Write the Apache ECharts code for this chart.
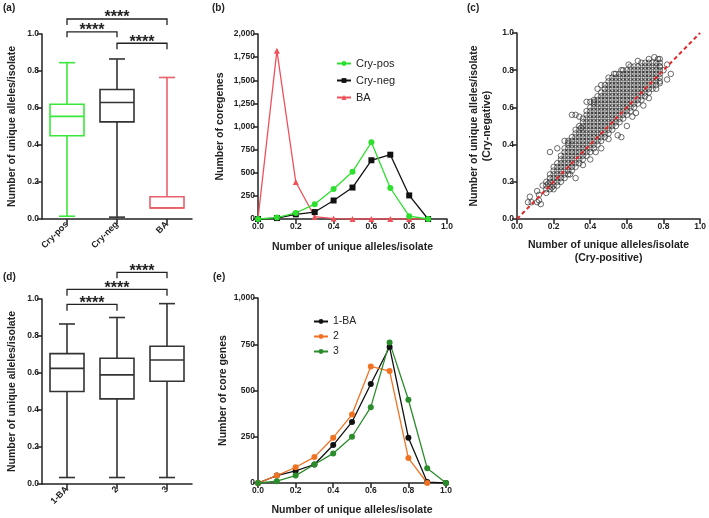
<!DOCTYPE html>
<html><head><meta charset="utf-8">
<script src="https://cdn.jsdelivr.net/npm/echarts@6/dist/echarts.min.js"></script>
<style>html,body{margin:0;padding:0;background:#fff}#c{width:709px;height:518px}</style>
</head><body><div id="c"></div>
<script>
// ---------- DATA ----------
// (a) boxplots: [min, q1, median, q3, max]
const catsA = ['Cry-pos', 'Cry-neg', 'BA'];
const boxA = [
  [0.015, 0.45, 0.555, 0.62, 0.845],
  [0.01, 0.525, 0.63, 0.70, 0.865],
  [0.06, 0.06, 0.06, 0.12, 0.765]
];
// significance brackets: [fromCat, toCat, barValue, tipValue]
const sigA = [[0, 2, 1.081, 1.049], [0, 1, 1.012, 0.982], [1, 2, 0.95, 0.917]];
const sigLabel = '****';

// (b) frequency distributions
const xB = [0, 0.1, 0.2, 0.3, 0.4, 0.5, 0.6, 0.7, 0.8, 0.9];
const cryPosB = [0, 15, 65, 160, 325, 510, 830, 335, 30, 0];
const cryNegB = [0, 10, 50, 75, 200, 340, 635, 695, 255, 0];
const baB = [0, 1820, 400, 25, 5, 0, 0, 0, 0, 0];

// (c) scatter (values in hundredths): columns [x, [y...]] and extra points [x, y]
const scatterCols = [
  [16, [14, 16, 18, 20]],
  [18, [16, 18, 20, 22, 24]],
  [20, [16, 18, 20, 22, 24, 26, 28]],
  [22, [18, 20, 22, 24, 26, 28, 30]],
  [24, [20, 22, 24, 26, 28, 30, 32, 34]],
  [26, [22, 24, 26, 28, 30, 32, 34, 36, 38]],
  [28, [24, 26, 28, 30, 32, 34, 36, 38, 40, 42]],
  [30, [26, 28, 30, 32, 34, 36, 38, 40, 42, 44]],
  [32, [28, 30, 32, 34, 36, 38, 40, 42, 44, 46, 48]],
  [34, [30, 32, 34, 36, 38, 40, 42, 44, 46, 48, 50]],
  [36, [32, 34, 36, 38, 40, 42, 44, 46, 48, 50, 52, 54]],
  [38, [34, 36, 38, 40, 42, 44, 46, 48, 50, 52, 54, 56, 58]],
  [40, [36, 38, 40, 42, 44, 46, 48, 50, 52, 54, 56, 58, 60]],
  [42, [38, 40, 42, 44, 46, 48, 50, 52, 54, 56, 58, 60, 62, 64]],
  [44, [40, 42, 44, 46, 48, 50, 52, 54, 56, 58, 60, 62, 64, 66]],
  [46, [42, 44, 46, 48, 50, 52, 54, 56, 58, 60, 62, 64, 66, 68]],
  [48, [44, 46, 48, 50, 52, 54, 56, 58, 60, 62, 64, 66, 68, 70, 72]],
  [50, [46, 48, 50, 52, 54, 56, 58, 60, 62, 64, 66, 68, 70, 72, 74]],
  [52, [48, 50, 52, 54, 56, 58, 60, 62, 64, 66, 68, 70, 72, 74, 76]],
  [54, [50, 52, 54, 56, 58, 60, 62, 64, 66, 68, 70, 72, 74, 76, 78]],
  [56, [52, 54, 56, 58, 60, 62, 64, 66, 68, 70, 72, 74, 76, 78]],
  [58, [54, 56, 58, 60, 62, 64, 66, 68, 70, 72, 74, 76, 78, 80]],
  [60, [56, 58, 60, 62, 64, 66, 68, 70, 72, 74, 76, 78, 80]],
  [62, [58, 60, 62, 64, 66, 68, 70, 72, 74, 76, 78, 80, 82]],
  [64, [60, 62, 64, 66, 68, 70, 72, 74, 76, 78, 80, 82]],
  [66, [62, 64, 66, 68, 70, 72, 74, 76, 78, 80, 82]],
  [68, [64, 66, 68, 70, 72, 74, 76, 78, 80, 82, 84]],
  [70, [66, 68, 70, 72, 74, 76, 78, 80, 82, 84]],
  [72, [68, 70, 72, 74, 76, 78, 80, 82, 84]],
  [74, [70, 72, 74, 76, 78, 80, 82, 84]],
  [76, [72, 74, 76, 78, 80, 82, 84]],
  [78, [74, 76, 78, 80, 82, 84, 86]]
];
const scatterExtra = [
  [6, 9], [8, 9], [7, 12], [11, 15], [12, 13], [11, 9], [13, 8], [12, 10], [17, 19], [19, 17], [14, 18],
  [18, 36], [22, 38], [26, 42], [28, 41], [30, 56], [32, 56], [34, 55], [35, 49], [38, 63], [40, 63],
  [42, 63], [44, 70], [46, 72], [50, 76], [53, 78], [57, 80], [61, 83], [66, 85], [72, 86], [75, 87],
  [77, 86], [29, 24], [32, 22], [36, 29], [40, 32], [43, 36], [46, 38], [50, 43], [55, 45], [57, 44],
  [60, 50], [63, 55], [65, 57], [69, 61], [72, 65], [76, 70], [78, 73], [82, 75], [84, 78], [80, 80],
  [82, 83], [78, 82]
];
const diagLine = [[0, 0], [1, 1]];

// (d) boxplots
const catsD = ['1-BA', '2', '3'];
const boxD = [
  [0.035, 0.50, 0.625, 0.705, 0.865],
  [0.035, 0.46, 0.59, 0.68, 0.90],
  [0.035, 0.555, 0.67, 0.745, 0.975]
];
const sigD = [[1, 2, 1.144, 1.112], [0, 2, 1.052, 1.018], [0, 1, 0.971, 0.937]];

// (e)
const xE = [0, 0.1, 0.2, 0.3, 0.4, 0.5, 0.6, 0.7, 0.8, 0.9, 1.0];
const ba1E = [0, 40, 65, 100, 205, 330, 535, 735, 245, 5, 0];
const g2E = [0, 40, 85, 140, 245, 370, 630, 605, 135, 0];
const g3E = [0, 10, 40, 100, 160, 250, 410, 760, 450, 80, 0];

// ---------- STYLE ----------
const FONT = '"Liberation Sans", Arial, sans-serif';
const INK = '#222';
const colorsA = ['#3ae83a', '#333333', '#e8606a'];
const colorsD = ['#333333', '#333333', '#333333'];

const pairs = (xs, ys) => ys.map((y, i) => [xs[i], y]);
const scatterData = [];
scatterCols.forEach(c => c[1].forEach(y => scatterData.push([c[0] / 100, y / 100])));
scatterExtra.forEach(p => scatterData.push([p[0] / 100, p[1] / 100]));

const comma = v => String(v).replace(/\B(?=(\d{3})+(?!\d))/g, ',');

function axisBase(extra) {
  return Object.assign({
    axisLine: { show: true, lineStyle: { color: INK, width: 1.5 } },
    axisTick: { show: true, length: 5, lineStyle: { color: INK, width: 1.5 } },
    splitLine: { show: false },
    nameLocation: 'middle',
    nameTextStyle: { fontSize: 10.5, fontWeight: 'bold', color: INK, fontFamily: FONT, lineHeight: 13 }
  }, extra);
}
function valAxis(grid, min, max, interval, name, gap, fmt) {
  return axisBase({
    type: 'value', gridIndex: grid, min: min, max: max, interval: interval, name: name, nameGap: gap,
    axisLabel: { fontSize: 8.5, fontWeight: 'bold', color: INK, fontFamily: FONT, margin: 3, formatter: fmt }
  });
}
function catAxis(grid, cats) {
  return axisBase({
    type: 'category', gridIndex: grid, data: cats, boundaryGap: true,
    axisTick: { show: true, length: 5, alignWithLabel: true, lineStyle: { color: INK, width: 1.5 } },
    axisLabel: { fontSize: 9, fontWeight: 'bold', color: INK, fontFamily: FONT, rotate: 45, margin: 4, interval: 0 }
  });
}
const f1 = v => v.toFixed(1);

function boxRender(colors) {
  return function (params, api) {
    const c = api.value(0);
    const pt = v => api.coord([c, v]);
    const half = api.size([1, 0])[0] * 0.34;
    const cap = half * 0.47;
    const x = pt(0)[0];
    const yMin = pt(api.value(1))[1], yQ1 = pt(api.value(2))[1], yMed = pt(api.value(3))[1],
      yQ3 = pt(api.value(4))[1], yMax = pt(api.value(5))[1];
    const st = { stroke: colors[params.dataIndex], lineWidth: 1.6, fill: null };
    const ln = (x1, y1, x2, y2) => ({ type: 'line', shape: { x1, y1, x2, y2 }, style: st });
    return {
      type: 'group', children: [
        { type: 'rect', shape: { x: x - half, y: yQ3, width: 2 * half, height: yQ1 - yQ3 }, style: st },
        ln(x - half, yMed, x + half, yMed),
        ln(x, yQ3, x, yMax), ln(x - cap, yMax, x + cap, yMax),
        ln(x, yQ1, x, yMin), ln(x - cap, yMin, x + cap, yMin)
      ]
    };
  };
}
function sigRender(params, api) {
  const a = api.coord([api.value(0), api.value(2)]);
  const b = api.coord([api.value(1), api.value(2)]);
  const tipY = api.coord([api.value(0), api.value(3)])[1];
  return {
    type: 'group', children: [
      { type: 'polyline', shape: { points: [[a[0], tipY], a, b, [b[0], tipY]] },
        style: { stroke: INK, lineWidth: 1.3, fill: null } },
      { type: 'text', x: (a[0] + b[0]) / 2, y: a[1] - 1,
        style: { text: sigLabel, fontSize: 16, fontWeight: 'bold', fontFamily: FONT, fill: INK,
          textAlign: 'center', textVerticalAlign: 'middle' } }
    ]
  };
}
const boxSeries = (grid, boxes, colors) => ({
  type: 'custom', xAxisIndex: grid, yAxisIndex: grid, clip: false,
  data: boxes.map((b, i) => [i].concat(b)),
  encode: { x: 0, y: [1, 2, 3, 4, 5] },
  renderItem: boxRender(colors)
});
const sigSeries = (grid, sig) => ({
  type: 'custom', xAxisIndex: grid, yAxisIndex: grid, clip: false,
  data: sig, encode: { x: [0, 1], y: 2 }, renderItem: sigRender, z: 5
});
const lineSeries = (grid, name, data, color, symbol, size) => ({
  type: 'line', name: name, xAxisIndex: grid, yAxisIndex: grid, data: data,
  symbol: symbol, symbolSize: size, showSymbol: true,
  lineStyle: { color: color, width: 1.3 }, itemStyle: { color: color, borderWidth: 0 }
});

const chart = echarts.init(document.getElementById('c'), null, { renderer: 'canvas' });
chart.setOption({
  animation: false,
  backgroundColor: '#fff',
  textStyle: { fontFamily: FONT },
  grid: [
    { left: 42, top: 34, width: 150, height: 185 },
    { left: 258, top: 34, width: 189, height: 185 },
    { left: 517, top: 33, width: 186, height: 186 },
    { left: 42, top: 299, width: 150, height: 185 },
    { left: 258, top: 298, width: 188, height: 186 }
  ],
  xAxis: [
    catAxis(0, catsA),
    valAxis(1, 0, 1, 0.2, 'Number of unique alleles/isolate', 22, f1),
    valAxis(2, 0, 1, 0.2, 'Number of unique alleles/isolate\n(Cry-positive)', 20, f1),
    catAxis(3, catsD),
    valAxis(4, 0, 1, 0.2, 'Number of unique alleles/isolate', 21, f1)
  ],
  yAxis: [
    valAxis(0, 0, 1, 0.2, 'Number of unique alleles/isolate', 23, f1),
    valAxis(1, 0, 2000, 250, 'Number of coregenes', 31, comma),
    valAxis(2, 0, 1, 0.2, 'Number of unique alleles/isolate\n(Cry-negative)', 23, f1),
    valAxis(3, 0, 1, 0.2, 'Number of unique alleles/isolate', 23, f1),
    valAxis(4, 0, 1000, 250, 'Number of core genes', 21, comma)
  ],
  legend: [
    { data: ['Cry-pos', 'Cry-neg', 'BA'], orient: 'vertical', left: 336, top: 58, itemWidth: 14, itemHeight: 6,
      itemGap: 6, textStyle: { fontSize: 11, color: INK, fontFamily: FONT }, padding: 0 },
    { data: ['1-BA', '2', '3'], orient: 'vertical', left: 313, top: 316, itemWidth: 14, itemHeight: 6,
      itemGap: 4, textStyle: { fontSize: 10.5, color: INK, fontFamily: FONT }, padding: 0 }
  ],
  graphic: [
    { type: 'text', left: 3, top: 3, style: { text: '(a)', fontSize: 10, fontWeight: 'bold', fill: INK, fontFamily: FONT } },
    { type: 'text', left: 212, top: 3, style: { text: '(b)', fontSize: 10, fontWeight: 'bold', fill: INK, fontFamily: FONT } },
    { type: 'text', left: 467, top: 3, style: { text: '(c)', fontSize: 10, fontWeight: 'bold', fill: INK, fontFamily: FONT } },
    { type: 'text', left: 3, top: 272, style: { text: '(d)', fontSize: 10, fontWeight: 'bold', fill: INK, fontFamily: FONT } },
    { type: 'text', left: 213, top: 272, style: { text: '(e)', fontSize: 10, fontWeight: 'bold', fill: INK, fontFamily: FONT } }
  ],
  series: [
    boxSeries(0, boxA, colorsA),
    sigSeries(0, sigA),
    lineSeries(1, 'BA', pairs(xB, baB), '#f0505a', 'triangle', 6),
    lineSeries(1, 'Cry-neg', pairs(xB, cryNegB), '#111111', 'rect', 6),
    lineSeries(1, 'Cry-pos', pairs(xB, cryPosB), '#2ee02e', 'circle', 6),
    {
      type: 'scatter', xAxisIndex: 2, yAxisIndex: 2, data: scatterData, symbol: 'circle', symbolSize: 5.5,
      itemStyle: { color: 'rgba(0,0,0,0)', borderColor: '#333333', borderWidth: 0.9 }, large: false
    },
    {
      type: 'line', xAxisIndex: 2, yAxisIndex: 2, data: diagLine, symbol: 'none', z: 10,
      lineStyle: { color: '#e02828', width: 2, type: [4, 3] }
    },
    boxSeries(3, boxD, colorsD),
    sigSeries(3, sigD),
    lineSeries(4, '1-BA', pairs(xE, ba1E), '#111111', 'circle', 6),
    lineSeries(4, '2', pairs(xE, g2E), '#f07324', 'circle', 6),
    lineSeries(4, '3', pairs(xE, g3E), '#2b8c2b', 'circle', 6)
  ]
});
</script></body></html>
